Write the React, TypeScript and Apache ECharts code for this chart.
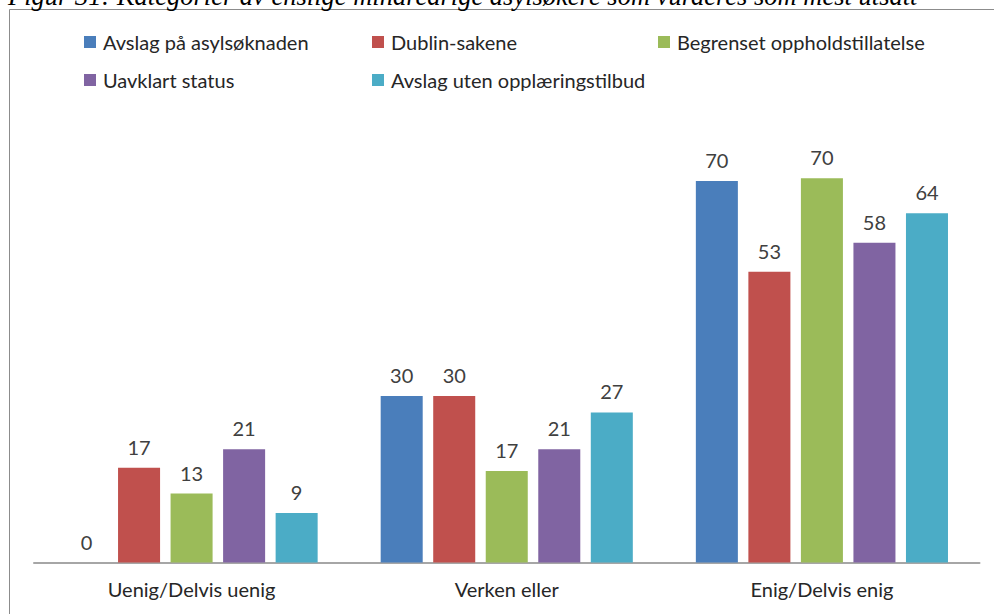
import React, { useEffect, useRef } from "react";
import * as echarts from "echarts";

const categories = ["Uenig/Delvis uenig", "Verken eller", "Enig/Delvis enig"];
const seriesNames = [
  "Avslag på asylsøknaden",
  "Dublin-sakene",
  "Begrenset oppholdstillatelse",
  "Uavklart status",
  "Avslag uten opplæringstilbud",
];
const avslag = [0, 30.4, 69.7];
const dublin = [17.3, 30.4, 53.1];
const begrenset = [12.6, 16.7, 70.2];
const uavklart = [20.7, 20.7, 58.4];
const utenOpplaering = [9.05, 27.4, 63.8];
const seriesValues = [avslag, dublin, begrenset, uavklart, utenOpplaering];
const colors = ["#4A7EBB", "#C0504D", "#9BBB59", "#8064A2", "#4BACC6"];
const title =
  "Figur 31: Kategorier av enslige mindreårige asylsøkere som vurderes som mest utsatt";

const legendPos = [
  { left: 84, top: 32 },
  { left: 372, top: 32 },
  { left: 658, top: 32 },
  { left: 84, top: 70 },
  { left: 372, top: 70 },
];

const FONT = "Lato, 'Noto Sans', sans-serif";

export default function App() {
  const ref = useRef<HTMLDivElement>(null);
  useEffect(() => {
    if (!ref.current) return;
    const chart = echarts.init(ref.current, undefined, { renderer: "svg" });
    chart.setOption({
      animation: false,
      backgroundColor: "#ffffff",
      textStyle: { fontFamily: FONT },
      legend: seriesNames.map((n, i) => ({
        data: [n],
        left: legendPos[i].left,
        top: legendPos[i].top,
        icon: "rect",
        itemWidth: 12,
        itemHeight: 12,
        padding: 0,
        selectedMode: false,
        textStyle: {
          fontFamily: FONT,
          fontSize: 20,
          color: "#262626",
          padding: [0, 0, 0, 2],
        },
      })),
      grid: { left: 34, right: 14.5, top: 124.5, bottom: 51.5 },
      xAxis: {
        type: "category",
        data: categories,
        axisLine: { lineStyle: { color: "#A6A6A6", width: 2 } },
        axisTick: { show: false },
        axisLabel: {
          fontFamily: FONT,
          fontSize: 20,
          color: "#262626",
          margin: 16,
        },
      },
      yAxis: {
        type: "value",
        min: 0,
        max: 80,
        show: false,
        splitLine: { show: false },
      },
      graphic: [
        {
          type: "rect",
          shape: { x: 9.5, y: 9.5, width: 1000, height: 700 },
          style: { fill: "none", stroke: "#8C8C8C", lineWidth: 1 },
          silent: true,
        },
        {
          type: "text",
          x: 8,
          y: -17.5,
          style: {
            text: title,
            font: "italic 26.5px 'Liberation Serif', 'DejaVu Serif', serif",
            fill: "#000000",
            verticalAlign: "top",
          },
          silent: true,
        },
      ],
      series: seriesNames.map((n, i) => ({
        name: n,
        type: "bar",
        data: seriesValues[i],
        barGap: "25%",
        barCategoryGap: "20%",
        itemStyle: { color: colors[i] },
        label: {
          show: true,
          position: "top",
          distance: 11,
          fontFamily: FONT,
          fontSize: 20,
          color: "#404040",
          formatter: (p: any) => String(Math.round(p.value)),
        },
      })),
    });
    return () => chart.dispose();
  }, []);
  return (
    <div
      ref={ref}
      style={{ position: "fixed", left: 0, top: 0, width: 994, height: 614 }}
    />
  );
}
